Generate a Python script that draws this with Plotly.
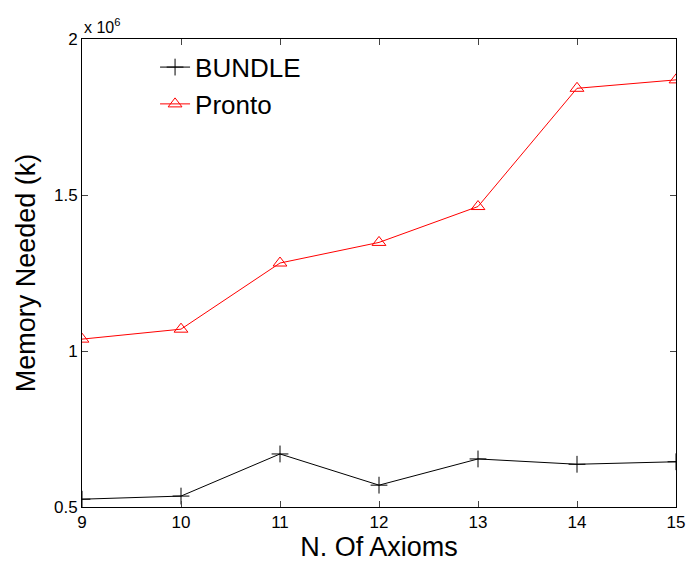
import plotly.graph_objects as go

axioms = [9, 10, 11, 12, 13, 14, 15]
bundle = [0.525e6, 0.535e6, 0.670e6, 0.570e6, 0.654e6, 0.637e6, 0.645e6]
pronto = [1.038e6, 1.070e6, 1.282e6, 1.348e6, 1.463e6, 1.842e6, 1.869e6]
y_ticks = [0.5e6, 1.0e6, 1.5e6, 2.0e6]
y_tick_labels = ["0.5", "1", "1.5", "2"]

font_family = "Liberation Sans, Arial, sans-serif"

fig = go.Figure()
fig.add_trace(go.Scatter(
    x=axioms, y=bundle, name="BUNDLE", mode="lines+markers",
    line=dict(color="black", width=1),
    marker=dict(symbol="cross-thin", size=12, color="black",
                line=dict(color="black", width=1)),
))
fig.add_trace(go.Scatter(
    x=axioms, y=pronto, name="Pronto", mode="lines+markers",
    line=dict(color="#ff0000", width=1),
    marker=dict(symbol="triangle-up-open", size=12, color="#ff0000",
                line=dict(color="#ff0000", width=1)),
))

fig.update_layout(
    width=690, height=568,
    margin=dict(l=82, r=14, t=39, b=61),
    paper_bgcolor="white", plot_bgcolor="white",
    font=dict(family=font_family, color="black"),
    showlegend=True,
    legend=dict(x=0.123, y=0.99, xanchor="left", yanchor="top",
                bgcolor="rgba(0,0,0,0)", font=dict(size=26, family=font_family),
                tracegroupgap=0),
    xaxis=dict(
        range=[9, 15], tickvals=axioms, ticks="inside", ticklen=6,
        showline=True, linecolor="black", linewidth=1, mirror="ticks",
        showgrid=False, zeroline=False, tickfont=dict(size=17),
        automargin=False,
        title=dict(text="N. Of Axioms", font=dict(size=27), standoff=4),
    ),
    yaxis=dict(
        range=[0.5e6, 2.0e6], tickvals=y_ticks, ticktext=y_tick_labels,
        ticks="inside", ticklen=6,
        showline=True, linecolor="black", linewidth=1, mirror="ticks",
        showgrid=False, zeroline=False, tickfont=dict(size=17),
        automargin=False,
        title=dict(text="Memory Needed (k)", font=dict(size=27), standoff=10),
    ),
    annotations=[dict(
        text="x 10<sup>6</sup>", xref="paper", yref="paper", x=0, y=1.0,
        xanchor="left", yanchor="bottom", showarrow=False,
        font=dict(size=16, family=font_family), yshift=1,
    )],
)

fig.write_html("out.html")
